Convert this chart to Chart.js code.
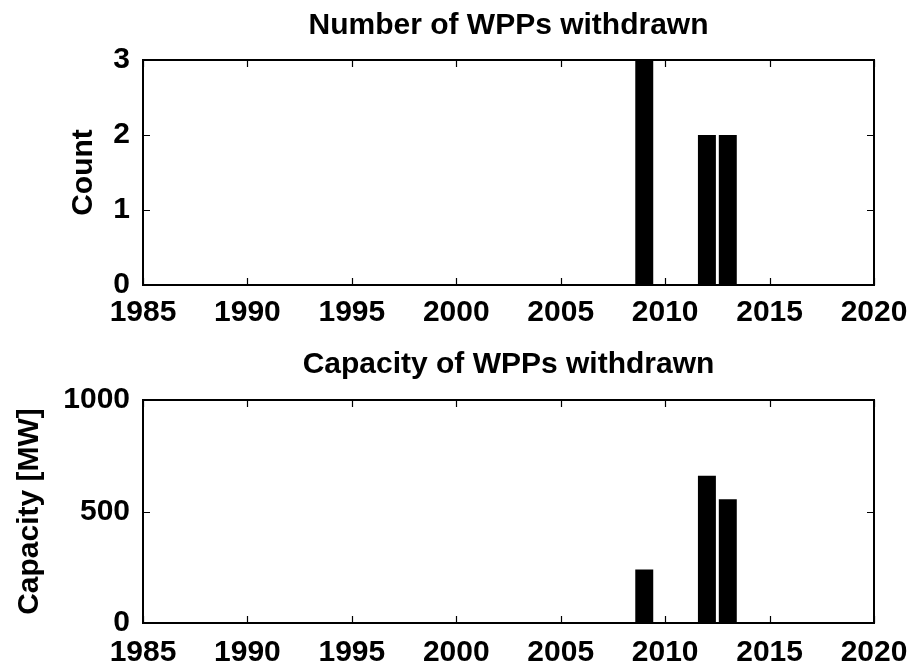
<!DOCTYPE html>
<html>
<head>
<meta charset="utf-8">
<script src="https://cdn.jsdelivr.net/npm/chart.js@4.4.1/dist/chart.umd.min.js"></script>
<style>
  html, body { margin: 0; padding: 0; background: #fff; }
  .panel { position: absolute; left: 0; width: 914px; height: 334px; }
</style>
</head>
<body>
<div class="panel" style="top:0"><canvas id="countChart"></canvas></div>
<div class="panel" style="top:334px"><canvas id="capChart"></canvas></div>
<script>
// withdrawn wind power plants per year
const years = [2009, 2012, 2013];
const counts = [3, 2, 2];
const capacityMW = [240, 660, 555];

const xTickYears = [1985, 1990, 1995, 2000, 2005, 2010, 2015, 2020];
const countTicks = [0, 1, 2, 3];
const capacityTicks = [0, 500, 1000];

const FONT = { family: '"Liberation Sans", Arial, sans-serif', size: 30, weight: 'bold' };

// MATLAB-ish box with inward tick marks on all four sides
const boxTicks = {
  id: 'boxTicks',
  afterDraw(chart) {
    const { ctx, chartArea: a, scales } = chart;
    const len = 7;
    ctx.save();
    ctx.strokeStyle = '#000';
    ctx.lineWidth = 1.2;
    ctx.beginPath();
    scales.x.ticks.forEach(t => {
      const px = Math.round(scales.x.getPixelForValue(t.value)) + 0.5;
      ctx.moveTo(px, a.bottom); ctx.lineTo(px, a.bottom - len);
      ctx.moveTo(px, a.top); ctx.lineTo(px, a.top + len);
    });
    scales.y.ticks.forEach(t => {
      const py = Math.round(scales.y.getPixelForValue(t.value)) + 0.5;
      ctx.moveTo(a.left, py); ctx.lineTo(a.left + len, py);
      ctx.moveTo(a.right, py); ctx.lineTo(a.right - len, py);
    });
    ctx.stroke();
    ctx.lineWidth = 2;
    ctx.strokeRect(a.left, a.top, a.right - a.left, a.bottom - a.top);
    ctx.restore();
  }
};

function makeChart(id, title, yLabel, values, yTicks, opts) {
  const x0 = xTickYears[0], x1 = xTickYears[xTickYears.length - 1];
  return new Chart(document.getElementById(id), {
    type: 'bar',
    data: {
      datasets: [{
        data: years.map((y, i) => ({ x: y, y: values[i] })),
        backgroundColor: '#000',
        borderColor: '#000',
        borderWidth: 0,
        barPercentage: 0.86,
        categoryPercentage: 1
      }]
    },
    options: {
      responsive: false,
      animation: false,
      devicePixelRatio: 1,
      layout: { padding: { left: 0, right: 40, top: 0, bottom: 0 } },
      plugins: {
        legend: { display: false },
        tooltip: { enabled: false },
        title: { display: false }
      },
      scales: {
        x: {
          type: 'linear',
          offset: false,
          min: x0,
          max: x1,
          afterBuildTicks: s => { s.ticks = xTickYears.map(v => ({ value: v })); },
          afterFit: s => { s.height = opts.xHeight; s.paddingLeft = 0; s.paddingRight = 0; },
          grid: { display: false, drawTicks: false },
          border: { display: false },
          ticks: {
            color: '#000',
            font: FONT,
            padding: opts.xPad,
            maxRotation: 0,
            autoSkip: false,
            callback: v => String(v)
          }
        },
        // top axis only carries the panel title, centred over the plot box
        xt: {
          type: 'linear',
          position: 'top',
          offset: false,
          min: x0,
          max: x1,
          afterFit: s => { s.height = opts.topHeight; s.paddingLeft = 0; s.paddingRight = 0; },
          grid: { display: false, drawTicks: false },
          border: { display: false },
          ticks: { display: false },
          title: {
            display: true,
            text: title,
            color: '#000',
            font: FONT,
            padding: { top: opts.titleTop, bottom: 0 }
          }
        },
        y: {
          min: yTicks[0],
          max: yTicks[yTicks.length - 1],
          afterBuildTicks: s => { s.ticks = yTicks.map(v => ({ value: v })); },
          afterFit: s => { s.width = 143; s.paddingTop = 0; s.paddingBottom = 0; },
          grid: { display: false, drawTicks: false },
          border: { display: false },
          title: {
            display: true,
            text: yLabel,
            color: '#000',
            font: FONT,
            padding: { top: opts.yTitleTop, bottom: 0 }
          },
          ticks: {
            color: '#000',
            font: FONT,
            padding: 13,
            callback: v => String(v)
          }
        }
      }
    },
    plugins: [boxTicks]
  });
}

for (const c of document.querySelectorAll('canvas')) { c.width = 914; c.height = 334; }

makeChart('countChart', 'Number of WPPs withdrawn', 'Count', counts, countTicks,
  { topHeight: 60, titleTop: 8, xHeight: 49, xPad: 10, yTitleTop: 66 });
makeChart('capChart', 'Capacity of WPPs withdrawn', 'Capacity [MW]', capacityMW, capacityTicks,
  { topHeight: 66, titleTop: 13, xHeight: 45, xPad: 12, yTitleTop: 12 });
</script>
</body>
</html>
